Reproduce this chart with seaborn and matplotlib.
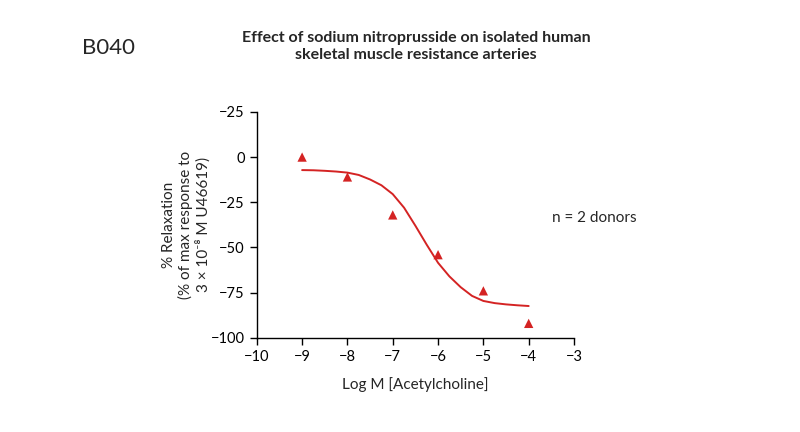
import numpy as np
import pandas as pd
import matplotlib
matplotlib.use('Agg')
import matplotlib.pyplot as plt
import seaborn as sns

# measured points
log_conc = [-9, -8, -7, -6, -5, -4]
relax = [0, -11, -32, -54, -74, -92]

# fitted curve
fit_x = [-9, -8.75, -8.5, -8.25, -8, -7.75, -7.5, -7.25, -7, -6.75, -6.5,
         -6.25, -6, -5.75, -5.5, -5.25, -5, -4.75, -4.5, -4.25, -4]
fit_y = [-7.2, -7.3, -7.6, -8.0, -8.6, -9.9, -12.4, -15.6, -20.5, -28, -38,
         -48.5, -58.5, -66, -72, -76.8, -79.6, -80.8, -81.5, -82, -82.4]

y_ticks = [25, 0, -25, -50, -75, -100]
y_labels = ['\u221225', '0', '\u221225', '\u221250', '\u221275', '\u2212100']
x_ticks = [-10, -9, -8, -7, -6, -5, -4, -3]

RED = '#d42323'


def main():
    sns.set_style('ticks')
    plt.rcParams['font.family'] = ['Lato', 'DejaVu Sans']

    fig = plt.figure(figsize=(8, 4.32), dpi=100)
    ax = fig.add_axes([0.321, 0.218, 0.3965, 0.523])

    pts = pd.DataFrame({'x': log_conc, 'y': relax})
    fit = pd.DataFrame({'x': fit_x, 'y': fit_y})
    sns.lineplot(data=fit, x='x', y='y', color=RED, linewidth=1.4, ax=ax)
    sns.scatterplot(data=pts, x='x', y='y', marker='^', color=RED, s=45,
                    edgecolor='none', ax=ax, zorder=3)

    ax.set_xlim(-10, -3)
    ax.set_ylim(-100, 25)
    ax.set_xticks(x_ticks)
    ax.set_xticklabels(['\u2212%d' % abs(t) for t in x_ticks])
    ax.set_yticks(y_ticks)
    ax.set_yticklabels(y_labels)
    ax.tick_params(labelsize=10.5, length=5, width=1, colors='black')
    for s in ['top', 'right']:
        ax.spines[s].set_visible(False)
    for s in ['left', 'bottom']:
        ax.spines[s].set_linewidth(1)
        ax.spines[s].set_color('black')

    ax.set_xlabel('Log M [Acetylcholine]', fontsize=11, labelpad=10)
    ax.set_ylabel('% Relaxation\n(% of max response to\n3 \u00d7 10\u207b\u2078 M U46619)',
                  fontsize=11, labelpad=0, linespacing=1.2)

    fig.text(0.52, 0.893, 'Effect of sodium nitroprusside on isolated human\n'
             'skeletal muscle resistance arteries', ha='center', va='center',
             fontsize=11.5, fontweight='bold', linespacing=1.3)
    fig.text(0.102, 0.89, 'B040', fontsize=16, ha='left', va='center')
    fig.text(0.69, 0.495, 'n = 2 donors', fontsize=11, ha='left', va='center')

    fig.savefig('out.png', dpi=100)


if __name__ == "__main__":
    main()
